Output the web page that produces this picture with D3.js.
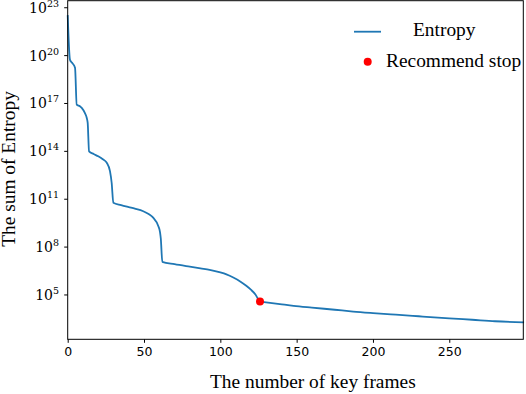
<!DOCTYPE html>
<html>
<head>
<meta charset="utf-8">
<script src="https://cdn.jsdelivr.net/npm/d3@7"></script>
<style>
  body { margin: 0; background: #fff; }
  svg { display: block; }
</style>
</head>
<body>
<div id="chart"></div>
<script>
// values
const frames = [0, 1.5, 3, 4.8, 5.9, 8, 9.2, 11.3, 12.5, 13.1, 14, 17, 20, 23, 25.6, 27.7, 28.8, 29.9,
  35, 40, 44, 49.5, 53, 56, 59.4, 60.5, 61, 62, 70, 80, 87, 93, 100, 104, 108.5, 113, 117, 120,
  123, 125.5, 126, 130, 139, 148, 160, 175, 187, 200, 215, 230, 250, 265, 280, 299];
const entropy = [3.2e22, 5.0e19, 3.2e19, 1.6e19, 7.9e16, 6.3e16, 4.9e16, 2.3e16, 1.15e16, 5.6e15,
  9.3e13, 6.3e13, 4.6e13, 3.0e13, 1.8e13, 5.4e12, 1.0e12, 5.6e10,
  4.0e10, 3.0e10, 2.4e10, 1.65e10, 1.1e10, 6.5e9, 1.9e9, 7.9e8, 3.2e8, 1.1e7, 7.9e6, 5.5e6, 4.3e6,
  3.5e6, 2.4e6, 1.8e6, 1.15e6, 6.6e5, 3.5e5, 2.0e5,
  1.0e5, 4.0e4, 3.6e4, 3.2e4, 2.5e4, 1.95e4, 1.5e4, 1.1e4, 8.5e3, 6.8e3, 5.4e3, 4.3e3, 3.2e3, 2.6e3, 2.1e3, 1.8e3];
const stopFrame = 126;
const stopValue = 3.6e4;
const xTicks = [0, 50, 100, 150, 200, 250];
const yTickExps = [5, 8, 11, 14, 17, 20, 23];

const w = 526, h = 394;
const padL = 67.7, padR = 523.3, padT = 0.7, padB = 339.3;

const svg = d3.select("#chart").append("svg")
  .attr("width", w).attr("height", h);

const xScale = d3.scaleLinear().domain([0, 298.5]).range([padL, padR]);
const yScale = d3.scaleLog().domain([Math.pow(10, 2.19), Math.pow(10, 23.41)]).range([padB, padT]);

const data = frames.map((f, i) => [f, entropy[i]]);

// line
const line = d3.line()
  .x(d => xScale(d[0]))
  .y(d => yScale(d[1]))
  .curve(d3.curveMonotoneX);

svg.append("path")
  .datum(data)
  .attr("d", line)
  .attr("fill", "none")
  .attr("stroke", "#1f77b4")
  .attr("stroke-width", 1.8)
  .attr("stroke-linejoin", "round");

// recommend stop point
svg.append("circle")
  .attr("cx", xScale(stopFrame))
  .attr("cy", yScale(stopValue))
  .attr("r", 4)
  .attr("fill", "red");

// frame
svg.append("rect")
  .attr("x", padL).attr("y", padT)
  .attr("width", padR - padL).attr("height", padB - padT)
  .attr("fill", "none").attr("stroke", "#000").attr("stroke-width", 1);

// x axis
const xAxis = d3.axisBottom(xScale).tickValues(xTicks).tickSize(3.5).tickPadding(4);
const gx = svg.append("g")
  .attr("transform", `translate(0, ${padB})`)
  .call(xAxis);
gx.select(".domain").remove();
gx.selectAll("text")
  .attr("font-family", "DejaVu Sans")
  .attr("font-size", 12.5)
  .attr("fill", "#000");

// y axis
const yAxis = d3.axisLeft(yScale).tickValues(yTickExps.map(e => Math.pow(10, e))).tickSize(3.5).tickFormat("");
const gy = svg.append("g")
  .attr("transform", `translate(${padL}, 0)`)
  .call(yAxis);
gy.select(".domain").remove();

const ylab = svg.append("g").selectAll("text")
  .data(yTickExps)
  .enter().append("text")
  .attr("x", 59)
  .attr("y", d => yScale(Math.pow(10, d)) + 5.5)
  .attr("text-anchor", "end")
  .attr("font-family", "DejaVu Serif")
  .attr("font-size", 14)
  .attr("fill", "#000");
ylab.append("tspan").text("10");
ylab.append("tspan").attr("font-size", 9.5).attr("dy", -6).text(d => d);

// axis titles
svg.append("text")
  .attr("x", 210).attr("y", 388)
  .attr("font-family", "Liberation Serif")
  .attr("font-size", 19.4)
  .attr("fill", "#000")
  .text("The number of key frames");

svg.append("text")
  .attr("transform", "translate(15, 169) rotate(-90)")
  .attr("text-anchor", "middle")
  .attr("font-family", "Liberation Serif")
  .attr("font-size", 19.4)
  .attr("fill", "#000")
  .text("The sum of Entropy");

// legend
const legend = svg.append("g");
legend.append("line")
  .attr("x1", 354).attr("x2", 381).attr("y1", 31.7).attr("y2", 31.7)
  .attr("stroke", "#1f77b4").attr("stroke-width", 1.8);
legend.append("text")
  .attr("x", 413).attr("y", 36)
  .attr("font-family", "Liberation Serif").attr("font-size", 19.4).attr("fill", "#000")
  .text("Entropy");
legend.append("circle")
  .attr("cx", 367.7).attr("cy", 61.7).attr("r", 4).attr("fill", "red");
legend.append("text")
  .attr("x", 386).attr("y", 66.7)
  .attr("font-family", "Liberation Serif").attr("font-size", 19.4).attr("fill", "#000")
  .text("Recommend stop");
</script>
</body>
</html>
